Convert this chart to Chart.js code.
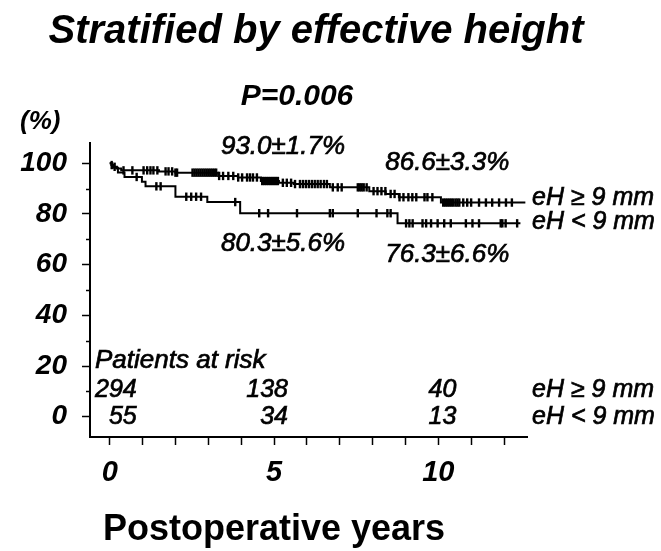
<!DOCTYPE html>
<html>
<head>
<meta charset="utf-8">
<script src="https://cdn.jsdelivr.net/npm/chart.js@4/dist/chart.umd.min.js"></script>
<style>
  html, body { margin: 0; padding: 0; background: #fff; }
  #wrap { width: 661px; height: 551px; }
</style>
</head>
<body>
<div id="wrap"><canvas id="km" width="661" height="551"></canvas></div>
<script>
// Kaplan-Meier curves stratified by effective height (eH)

// eH >= 9 mm: event times (years) and survival (%) from that time on
const highTimes = [0, 0.05, 0.12, 0.22, 0.35, 1.5, 2.0, 3.3, 3.9, 4.6, 5.15, 5.6, 6.7, 7.9, 8.4, 8.8, 10.08, 12.65];
const highSurv  = [100, 99.3, 98.6, 97.9, 97.2, 96.8, 96.3, 95.0, 94.4, 93.0, 92.3, 91.8, 90.5, 89.0, 87.9, 86.6, 84.5, 84.5];
// eH >= 9 mm: censored follow-up times (years)
const highCensor = [0.06, 0.15, 0.42, 0.69, 1.03, 1.14, 1.24, 1.33, 1.45, 1.70, 1.79, 1.90, 2.00, 2.05,
  2.52, 2.58, 2.64, 2.70, 2.76, 2.82, 2.88, 2.94, 3.00, 3.06, 3.12, 3.18, 3.24, 3.33, 3.45, 3.61, 3.76,
  3.91, 4.03, 4.18, 4.27, 4.36, 4.48, 4.64, 4.70, 4.76, 4.82, 4.88, 4.94, 5.00, 5.06, 5.12, 5.27, 5.39,
  5.52, 5.64, 5.79, 5.88, 5.97, 6.06, 6.15, 6.24, 6.33, 6.42, 6.52, 6.61, 6.79, 6.94, 7.06, 7.55, 7.61,
  7.67, 7.73, 7.82, 8.03, 8.15, 8.27, 8.39, 8.55, 8.67, 8.82, 8.94, 9.09, 9.21, 9.33, 9.58, 9.67, 9.82,
  10.15, 10.21, 10.27, 10.33, 10.39, 10.45, 10.52, 10.58, 10.64, 10.76, 10.88, 11.0, 11.24, 11.45,
  11.64, 11.85, 12.06, 12.24];

// eH < 9 mm
const lowTimes = [0, 0.08, 0.25, 0.45, 0.98, 1.09, 2.0, 2.97, 3.97, 8.76, 12.5];
const lowSurv  = [100, 98.2, 96.4, 94.6, 92.7, 90.9, 86.8, 84.7, 80.3, 76.3, 76.3];
const lowCensor = [0.82, 1.42, 1.55, 2.33, 2.48, 2.63, 2.78, 3.82, 4.55, 4.82, 5.7, 6.7, 6.79, 7.55,
  8.12, 8.45, 8.55, 9.02, 9.12, 9.22, 9.52, 9.63, 9.78, 9.98, 10.18, 10.38, 10.84, 11.04, 11.24,
  11.9, 11.95, 12.05, 12.4];

// Survival estimates quoted at 5 and 10 years (value, standard error)
const rateYears = [5, 10];
const rateHigh = [93.0, 86.6];
const rateHighSE = [1.7, 3.3];
const rateLow = [80.3, 76.3];
const rateLowSE = [5.6, 6.6];

// Patients at risk
const atRiskYears = [0, 5, 10];
const atRiskHigh = [294, 138, 40];
const atRiskLow = [55, 34, 13];

const groupLabels = ['eH \u2265 9 mm', 'eH < 9 mm'];
const xTickYears = [0, 1, 2, 3, 4, 5, 6, 7, 8, 9, 10, 11, 12];
const yTickValues = [0, 10, 20, 30, 40, 50, 60, 70, 80, 90, 100];
const titleText = 'Stratified by effective height';
const pText = 'P=0.006';
const xTitle = 'Postoperative years';
const yUnit = '(%)';
const atRiskTitle = 'Patients at risk';

function survAt(times, surv, t) {
  let v = surv[0];
  for (let i = 0; i < times.length; i++) { if (times[i] <= t) v = surv[i]; }
  return v;
}
const pts = (ts, vs) => ts.map((t, i) => ({ x: t, y: vs[i] }));
const censorPts = (cs, ts, vs) => cs.map(t => ({ x: t, y: survAt(ts, vs, t) }));

const FONT = '"Liberation Sans", Arial, sans-serif';
const fmtRate = (v, se) => v.toFixed(1) + '\u00b1' + se.toFixed(1) + '%';

const curveStyle = { showLine: true, stepped: 'before', borderColor: '#000', borderWidth: 2, pointRadius: 0, fill: false };
const censorStyle = { showLine: false, pointStyle: 'line', rotation: 90, pointRadius: 4.2, borderColor: '#000', borderWidth: 2.4, pointBorderColor: '#000' };

// semi-bold look for the annotation text: fill plus a thin outline
function heavyText(ctx, s, px, py) {
  ctx.fillText(s, px, py);
  ctx.strokeText(s, px, py);
}

const textPlugin = {
  id: 'kmText',
  afterDraw(chart) {
    const { ctx, scales: { x, y } } = chart;
    ctx.save();
    ctx.fillStyle = '#000';
    ctx.strokeStyle = '#000';

    // minor y ticks
    ctx.lineWidth = 1.5;
    yTickValues.forEach(v => {
      if (v % 20 !== 0) {
        const py = Math.round(y.getPixelForValue(v)) + 0.5;
        ctx.beginPath(); ctx.moveTo(chart.chartArea.left - 4, py); ctx.lineTo(chart.chartArea.left, py); ctx.stroke();
      }
    });

    ctx.textBaseline = 'middle';
    ctx.textAlign = 'center';
    ctx.font = 'italic bold 40px ' + FONT;
    ctx.fillText(titleText, 316, 32);
    ctx.font = 'italic bold 30px ' + FONT;
    ctx.fillText(pText, 297, 97);
    ctx.textAlign = 'left';
    ctx.font = 'italic bold 26px ' + FONT;
    ctx.fillText(yUnit, 20, 122);

    ctx.lineWidth = 0.7;
    // survival estimates
    ctx.textAlign = 'center';
    ctx.font = 'italic 26px ' + FONT;
    rateYears.forEach((yr, i) => {
      const px = x.getPixelForValue(yr) + 9;
      heavyText(ctx, fmtRate(rateHigh[i], rateHighSE[i]), px, y.getPixelForValue(rateHigh[i]) - 34);
      heavyText(ctx, fmtRate(rateLow[i], rateLowSE[i]), px, y.getPixelForValue(rateLow[i]) + 31);
    });

    // group labels at curve ends
    ctx.textAlign = 'left';
    ctx.font = 'italic 25px ' + FONT;
    const right = chart.chartArea.right + 5;
    heavyText(ctx, groupLabels[0], right, y.getPixelForValue(highSurv[highSurv.length - 1]) - 5);
    heavyText(ctx, groupLabels[1], right, y.getPixelForValue(lowSurv[lowSurv.length - 1]) - 1);

    // patients at risk table
    ctx.font = 'italic 26px ' + FONT;
    heavyText(ctx, atRiskTitle, chart.chartArea.left + 5, y.getPixelForValue(22));
    ctx.font = 'italic 25px ' + FONT;
    ctx.textAlign = 'right';
    const colOffset = [27, 14, 18];
    const rowHigh = y.getPixelForValue(10.5), rowLow = y.getPixelForValue(0);
    atRiskYears.forEach((yr, i) => {
      const px = x.getPixelForValue(yr) + colOffset[i];
      heavyText(ctx, String(atRiskHigh[i]), px, rowHigh);
      heavyText(ctx, String(atRiskLow[i]), px, rowLow);
    });
    ctx.textAlign = 'left';
    heavyText(ctx, groupLabels[0], right, rowHigh);
    heavyText(ctx, groupLabels[1], right, rowLow);

    // x axis title
    ctx.textAlign = 'center';
    ctx.font = 'bold 36px ' + FONT;
    ctx.fillText(xTitle, x.getPixelForValue(5), 530);
    ctx.restore();
  }
};

new Chart(document.getElementById('km'), {
  type: 'scatter',
  data: {
    datasets: [
      Object.assign({ label: groupLabels[0], data: pts(highTimes, highSurv) }, curveStyle),
      Object.assign({ label: groupLabels[1], data: pts(lowTimes, lowSurv) }, curveStyle),
      Object.assign({ label: groupLabels[0] + ' censored', data: censorPts(highCensor, highTimes, highSurv) }, censorStyle),
      Object.assign({ label: groupLabels[1] + ' censored', data: censorPts(lowCensor, lowTimes, lowSurv) }, censorStyle)
    ]
  },
  options: {
    responsive: false,
    animation: false,
    devicePixelRatio: 1,
    layout: { padding: { left: 0, right: 134, top: 143, bottom: 0 } },
    plugins: { legend: { display: false }, tooltip: { enabled: false }, title: { display: false } },
    scales: {
      x: {
        type: 'linear', min: -0.6, max: 12.7,
        afterBuildTicks: s => { s.ticks = xTickYears.map(v => ({ value: v })); },
        afterFit: s => { s.height = 114; },
        ticks: {
          autoSkip: false, maxRotation: 0, padding: 11, color: '#000',
          font: { family: FONT, size: 29, weight: 'bold', style: 'italic' },
          callback: v => (v % 5 === 0 ? String(v) : '')
        },
        grid: { drawOnChartArea: false, tickLength: 8, tickWidth: 1.5, tickColor: '#000' },
        border: { color: '#000', width: 2 }
      },
      y: {
        type: 'linear', min: -8, max: 108,
        afterBuildTicks: s => { s.ticks = yTickValues.map(v => ({ value: v })); },
        afterFit: s => { s.width = 90; },
        ticks: {
          autoSkip: false, padding: 15, color: '#000',
          font: { family: FONT, size: 28, weight: 'bold', style: 'italic' },
          callback: v => (v % 20 === 0 ? String(v) : '')
        },
        grid: {
          drawOnChartArea: false, tickLength: 8, tickWidth: 1.5,
          tickColor: c => (c.tick && c.tick.value % 20 === 0 ? '#000' : 'rgba(0,0,0,0)')
        },
        border: { color: '#000', width: 2 }
      }
    }
  },
  plugins: [textPlugin]
});
</script>
</body>
</html>
